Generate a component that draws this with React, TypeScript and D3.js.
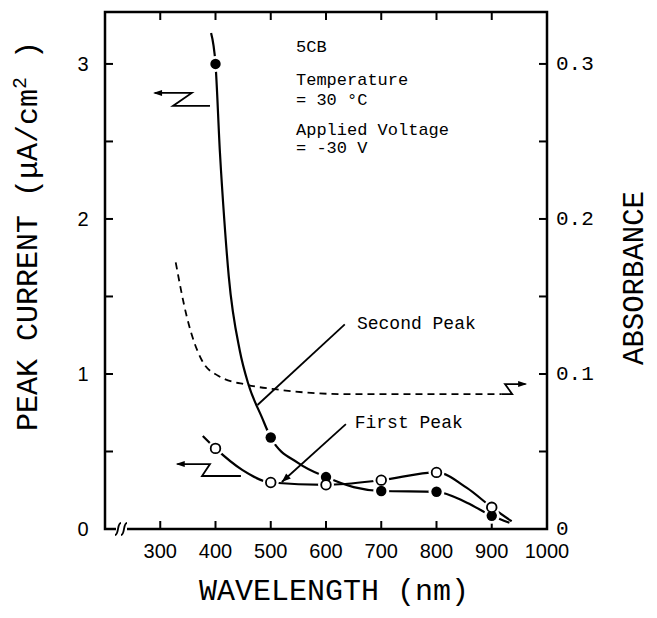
// App.tsx
import React, { useEffect, useRef } from 'react';
import * as d3 from 'd3';

// Puntos medidos (longitud de onda en nm)
const wavelengths = [400, 500, 600, 700, 800, 900];
const secondPeak = [3.0, 0.59, 0.335, 0.245, 0.24, 0.085];
const firstPeak = [0.52, 0.3, 0.285, 0.315, 0.365, 0.14];

// Curvas dibujadas a mano en la figura
const secondFitNm = [392, 400, 408, 416, 424, 444, 459, 484, 500, 550, 600, 650, 700, 800, 855, 900, 932];
const secondFitVal = [3.2, 3.0, 2.43, 1.99, 1.63, 1.15, 0.94, 0.72, 0.59, 0.425, 0.335, 0.27, 0.245, 0.24, 0.17, 0.085, 0.04];
const firstFitNm = [377, 400, 449, 500, 600, 700, 800, 855, 900, 936];
const firstFitVal = [0.6, 0.52, 0.38, 0.3, 0.285, 0.315, 0.365, 0.265, 0.14, 0.05];

// Absorbancia (linea discontinua, eje derecho)
const absNm = [328, 348, 375, 404, 457, 511, 637, 918];
const absValues = [0.172, 0.137, 0.109, 0.099, 0.093, 0.09, 0.087, 0.087];

// Ticks
const xTicks = [300, 400, 500, 600, 700, 800, 900];
const xLabels = [300, 400, 500, 600, 700, 800, 900, 1000];
const yTicks = [0.5, 1, 1.5, 2, 2.5, 3];
const yLabels = [0, 1, 2, 3];
const absTicks = [0.05, 0.1, 0.15, 0.2, 0.25, 0.3];
const absLabels = [0, 0.1, 0.2, 0.3];

const MONO = "'Liberation Mono', 'DejaVu Sans Mono', monospace";
const SANS = "'Liberation Sans', Arial, sans-serif";

const App = () => {
  const ref = useRef<SVGSVGElement | null>(null);

  useEffect(() => {
    const svg = d3.select(ref.current);
    svg.selectAll('*').remove();

    const left = 105, right = 547, top = 12, bottom = 529;

    // Escalas
    const x = d3.scaleLinear().domain([200, 1000]).range([left, right]);
    const y = d3.scaleLinear().domain([0, 3.335]).range([bottom, top]);
    const yAbs = d3.scaleLinear().domain([0, 0.3335]).range([bottom, top]);

    const g = svg.append('g');

    // Marco
    const axisStroke = 2.5;
    g.append('path')
      .attr('d', `M${left + 11},${bottom} H${left} V${top} H${right} V${bottom} H${left + 22}`)
      .attr('fill', 'none')
      .attr('stroke', 'black')
      .attr('stroke-width', axisStroke);

    // corte del eje x
    [left + 13, left + 19].forEach(cx => {
      g.append('path')
        .attr('d', `M${cx - 3},${bottom + 6} C${cx + 1},${bottom + 6} ${cx - 1},${bottom - 6} ${cx + 3},${bottom - 6}`)
        .attr('fill', 'none')
        .attr('stroke', 'black')
        .attr('stroke-width', 1.8);
    });

    // Ticks (hacia dentro)
    const tickLen = 8;
    xTicks.forEach(v => {
      g.append('line').attr('x1', x(v)).attr('x2', x(v)).attr('y1', bottom).attr('y2', bottom - tickLen)
        .attr('stroke', 'black').attr('stroke-width', 2);
      g.append('line').attr('x1', x(v)).attr('x2', x(v)).attr('y1', top).attr('y2', top + tickLen)
        .attr('stroke', 'black').attr('stroke-width', 2);
    });
    yTicks.forEach(v => {
      g.append('line').attr('x1', left).attr('x2', left + tickLen).attr('y1', y(v)).attr('y2', y(v))
        .attr('stroke', 'black').attr('stroke-width', 2);
    });
    absTicks.forEach(v => {
      g.append('line').attr('x1', right).attr('x2', right - tickLen).attr('y1', yAbs(v)).attr('y2', yAbs(v))
        .attr('stroke', 'black').attr('stroke-width', 2);
    });

    // Etiquetas de ticks
    xLabels.forEach(v => {
      g.append('text').attr('x', x(v)).attr('y', 558)
        .attr('text-anchor', 'middle').attr('font-family', SANS).attr('font-size', 20)
        .text(v);
    });
    yLabels.forEach(v => {
      g.append('text').attr('x', 83).attr('y', y(v)).attr('dy', '0.35em')
        .attr('text-anchor', 'middle').attr('font-family', SANS).attr('font-size', 20)
        .text(v);
    });
    absLabels.forEach(v => {
      g.append('text').attr('x', 556).attr('y', yAbs(v)).attr('dy', '0.3em')
        .attr('font-family', MONO).attr('font-size', 21)
        .text(v === 0 ? '0' : v.toFixed(1));
    });

    // Titulos
    const yTitle = g.append('text')
      .attr('transform', 'translate(37, 236) rotate(-90)')
      .attr('text-anchor', 'middle')
      .attr('font-family', MONO)
      .attr('font-size', 30);
    yTitle.append('tspan').text('PEAK CURRENT (μA/cm');
    yTitle.append('tspan').attr('dy', -11).attr('font-size', 20).text('2');
    yTitle.append('tspan').attr('dy', 11).text(' )');

    g.append('text')
      .attr('transform', 'translate(643, 278) rotate(-90)')
      .attr('text-anchor', 'middle')
      .attr('font-family', MONO)
      .attr('font-size', 29)
      .text('ABSORBANCE');

    g.append('text')
      .attr('x', 334).attr('y', 600)
      .attr('text-anchor', 'middle')
      .attr('font-family', MONO)
      .attr('font-size', 30)
      .text('WAVELENGTH (nm)');

    // Curvas
    const line = d3.line<[number, number]>()
      .x(d => x(d[0]))
      .y(d => y(d[1]))
      .curve(d3.curveMonotoneX);
    const absLine = d3.line<[number, number]>()
      .x(d => x(d[0]))
      .y(d => yAbs(d[1]))
      .curve(d3.curveMonotoneX);

    g.append('path')
      .attr('d', absLine(absNm.map((n, i) => [n, absValues[i]] as [number, number])))
      .attr('fill', 'none').attr('stroke', 'black').attr('stroke-width', 1.8)
      .attr('stroke-dasharray', '7,5');

    g.append('path')
      .attr('d', line(secondFitNm.map((n, i) => [n, secondFitVal[i]] as [number, number])))
      .attr('fill', 'none').attr('stroke', 'black').attr('stroke-width', 2.2);
    g.append('path')
      .attr('d', line(firstFitNm.map((n, i) => [n, firstFitVal[i]] as [number, number])))
      .attr('fill', 'none').attr('stroke', 'black').attr('stroke-width', 2.2);

    // Huecos blancos alrededor de los puntos
    wavelengths.forEach((n, i) => {
      g.append('circle').attr('cx', x(n)).attr('cy', y(secondPeak[i])).attr('r', 8).attr('fill', 'white');
      g.append('circle').attr('cx', x(n)).attr('cy', y(firstPeak[i])).attr('r', 8).attr('fill', 'white');
    });
    wavelengths.forEach((n, i) => {
      g.append('circle').attr('cx', x(n)).attr('cy', y(secondPeak[i])).attr('r', 5.2).attr('fill', 'black');
      g.append('circle').attr('cx', x(n)).attr('cy', y(firstPeak[i])).attr('r', 4.8)
        .attr('fill', 'white').attr('stroke', 'black').attr('stroke-width', 1.8);
    });

    // Flechas de eje (Z)
    const pt = (n: number, v: number, sc = y) => `${x(n)},${sc(v)}`;
    const zArrow = (pts: string, tipX: number, tipY: number, dir: number) => {
      g.append('polyline').attr('points', pts)
        .attr('fill', 'none').attr('stroke', 'black').attr('stroke-width', 1.8);
      g.append('path')
        .attr('d', `M${tipX},${tipY} l${-9 * dir},-3 l0,6 Z`)
        .attr('fill', 'black');
    };
    zArrow(`${pt(290, 2.813)} ${pt(357, 2.813)} ${pt(323, 2.729)} ${pt(390, 2.729)}`, x(287), y(2.813), -1);
    zArrow(`${pt(331, 0.419)} ${pt(390, 0.419)} ${pt(375.6, 0.342)} ${pt(446, 0.342)}`, x(328), y(0.419), -1);
    zArrow(`${pt(918, 0.087, yAbs)} ${pt(937, 0.087, yAbs)} ${pt(924, 0.0935, yAbs)} ${pt(961, 0.0935, yAbs)}`, x(964), yAbs(0.0935), 1);

    // Etiquetas Second / First Peak
    g.append('line').attr('x1', x(476)).attr('y1', y(0.8)).attr('x2', x(634)).attr('y2', y(1.32))
      .attr('stroke', 'black').attr('stroke-width', 1.8);
    g.append('text').attr('x', x(656)).attr('y', y(1.29))
      .attr('font-family', MONO).attr('font-size', 18).text('Second Peak');

    const fx1 = x(636), fy1 = y(0.677), fx2 = x(520), fy2 = y(0.303);
    g.append('line').attr('x1', fx1).attr('y1', fy1).attr('x2', fx2).attr('y2', fy2)
      .attr('stroke', 'black').attr('stroke-width', 1.8);
    const ang = Math.atan2(fy2 - fy1, fx2 - fx1) * 180 / Math.PI;
    g.append('path')
      .attr('d', 'M0,0 L-9,-3.5 L-9,3.5 Z')
      .attr('transform', `translate(${fx2},${fy2}) rotate(${ang})`)
      .attr('fill', 'black');
    g.append('text').attr('x', x(652)).attr('y', y(0.652))
      .attr('font-family', MONO).attr('font-size', 18).text('First Peak');

    // Condiciones
    const notes: [string, number][] = [
      ['5CB', 3.077],
      ['Temperature', 2.865],
      ['= 30 °C', 2.735],
      ['Applied Voltage', 2.542],
      ['= -30 V', 2.426],
    ];
    notes.forEach(([t, v]) => {
      g.append('text').attr('x', x(545.7)).attr('y', y(v))
        .attr('font-family', MONO).attr('font-size', 17).text(t);
    });
  }, []);

  return (
    <svg ref={ref} width={657} height={618}
      style={{ position: 'absolute', left: 0, top: 0, background: 'white' }} />
  );
};

export default App;
